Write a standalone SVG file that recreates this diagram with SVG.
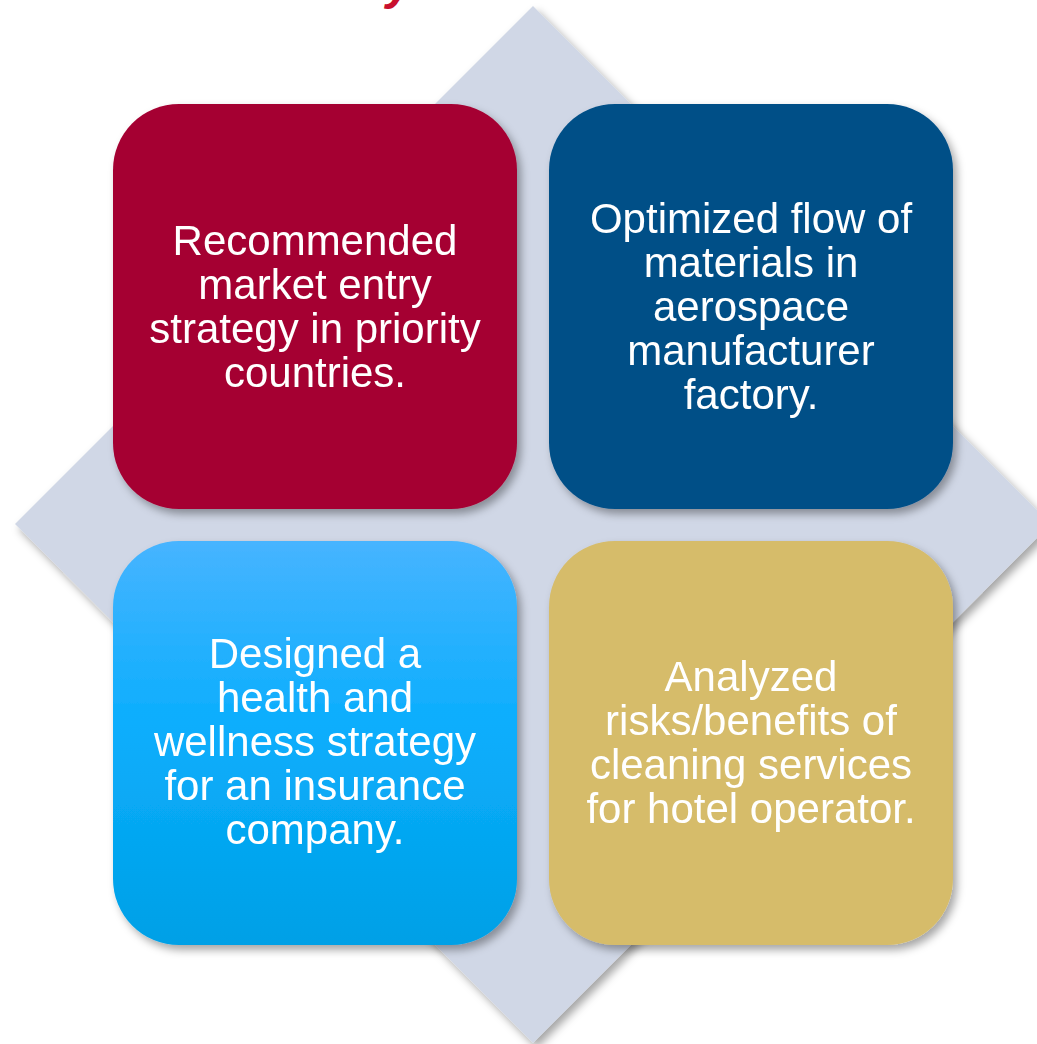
<svg xmlns="http://www.w3.org/2000/svg" width="1037" height="1044" viewBox="0 0 1037 1044">
<style>
.t{font-family:"Liberation Sans",Arial,sans-serif;font-size:42px;fill:#fff;text-anchor:middle}
.title{font-family:"Liberation Sans",Arial,sans-serif;font-size:48px;font-weight:bold;font-style:italic;fill:#C8102E}
</style>
<defs>
<filter id="sh" x="-10%" y="-10%" width="130%" height="130%">
<feDropShadow dx="4" dy="5" stdDeviation="4" flood-color="#000" flood-opacity="0.35"/>
</filter>
<linearGradient id="lb" x1="0" y1="0" x2="0" y2="1">
<stop offset="0" stop-color="#47B4FF"/>
<stop offset="0.45" stop-color="#0BAEFD"/>
<stop offset="1" stop-color="#00A0E6"/>
</linearGradient>
</defs>
<rect width="1037" height="1044" fill="#fff"/>
<text class="title" x="386" y="-1">y</text>
<polygon id="diamond" points="533,6 1051,524 533,1043 15,524" fill="#D0D7E6" filter="url(#sh)"/>
<g id="node-red" filter="url(#sh)">
<rect x="113" y="104" width="404" height="405" rx="66" fill="#A50533"/>
<text class="t"><tspan x="315" y="255">Recommended</tspan><tspan x="315" y="299">market entry</tspan><tspan x="315" y="343">strategy in priority</tspan><tspan x="315" y="387">countries.</tspan></text>
</g>
<g id="node-navy" filter="url(#sh)">
<rect x="549" y="104" width="404" height="405" rx="66" fill="#034F87"/>
<text class="t"><tspan x="751" y="233">Optimized flow of</tspan><tspan x="751" y="277">materials in</tspan><tspan x="751" y="321">aerospace</tspan><tspan x="751" y="365">manufacturer</tspan><tspan x="751" y="409">factory.</tspan></text>
</g>
<g id="node-lightblue" filter="url(#sh)">
<rect x="113" y="541" width="404" height="404" rx="66" fill="url(#lb)"/>
<text class="t"><tspan x="315" y="668">Designed a</tspan><tspan x="315" y="712">health and</tspan><tspan x="315" y="756">wellness strategy</tspan><tspan x="315" y="800">for an insurance</tspan><tspan x="315" y="844">company.</tspan></text>
</g>
<g id="node-gold" filter="url(#sh)">
<rect x="549" y="541" width="404" height="404" rx="66" fill="#D6BC6A"/>
<text class="t"><tspan x="751" y="691">Analyzed</tspan><tspan x="751" y="735">risks/benefits of</tspan><tspan x="751" y="779">cleaning services</tspan><tspan x="751" y="823">for hotel operator.</tspan></text>
</g>
<g id="connectors"/>
</svg>
